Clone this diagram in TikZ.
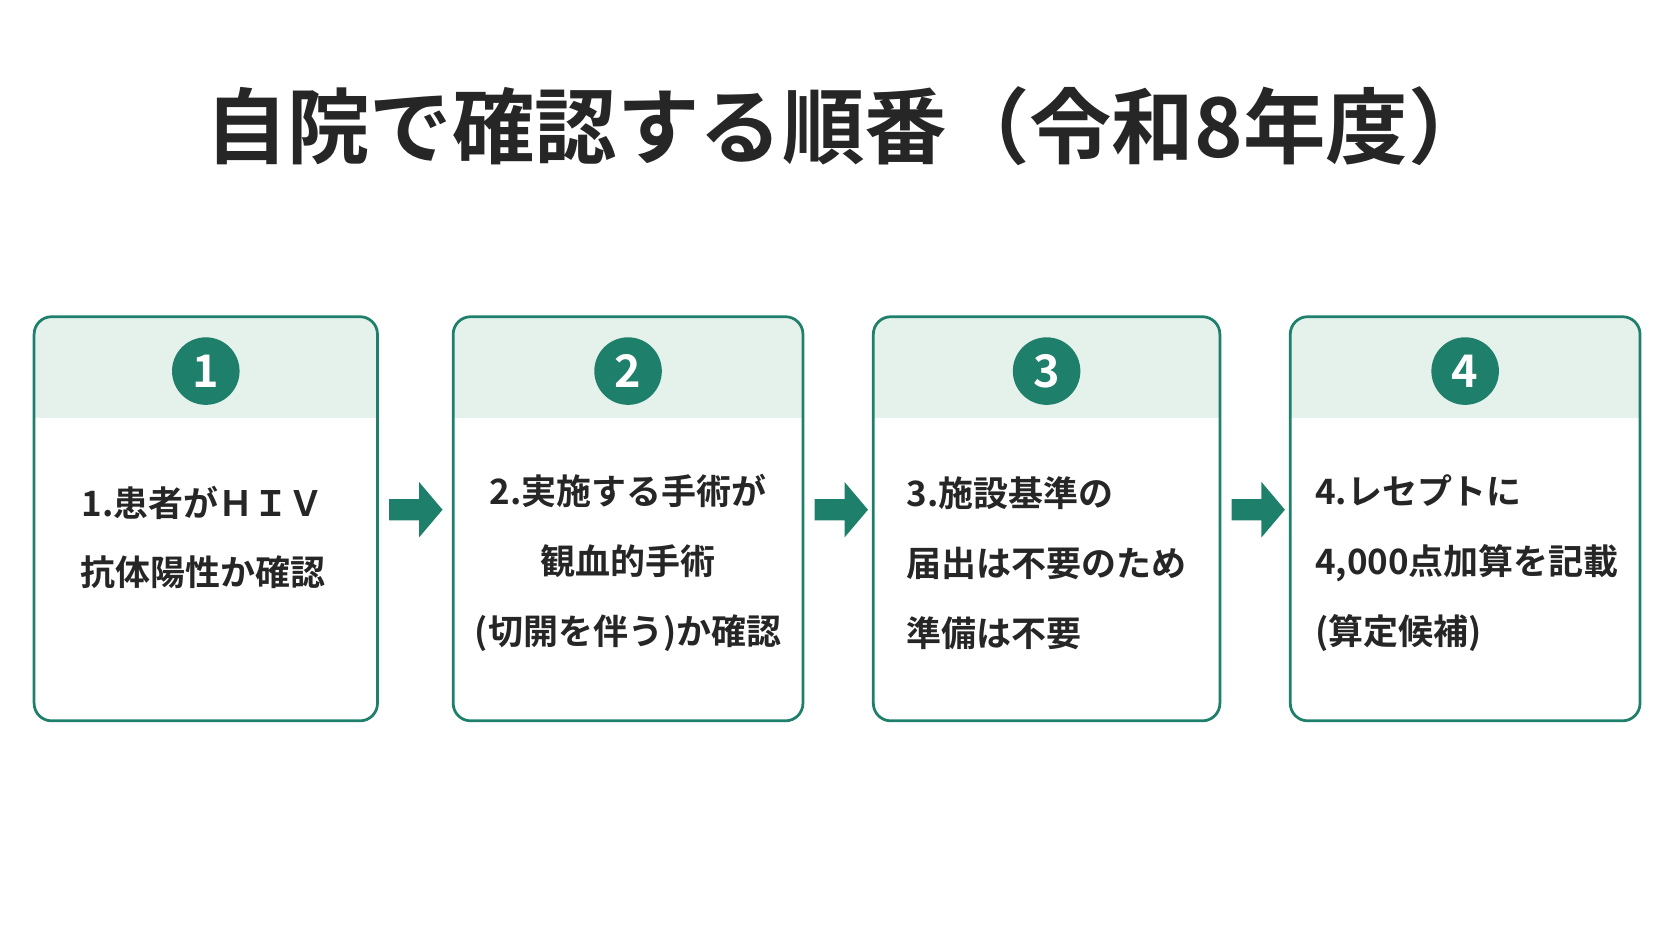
\documentclass[tikz,border=0pt]{standalone}
\usepackage{fontspec}
\setmainfont{Noto Sans CJK JP}[BoldFont={Noto Sans CJK JP Bold}]
\definecolor{grn}{HTML}{1E7F6A}
\definecolor{band}{HTML}{E5F1EB}
\begin{document}
\begin{tikzpicture}[x=0.03cm,y=-0.03cm,
  box/.style={draw=grn,line width=2.2pt,rounded corners=14pt},
  num/.style={circle,fill=grn,minimum size=1.9cm,inner sep=0pt,text=white,font=\fontsize{36}{36}\selectfont\bfseries},
  txt/.style={font=\fontsize{28}{56}\selectfont\bfseries,text=black!85,inner sep=0pt},
  arr/.style={fill=grn,draw=none}]
\useasboundingbox (0,0) rectangle (1568,882);
\node[font=\fontsize{66}{66}\selectfont\bfseries,text=black!85] (title) at (795,118) {自院で確認する順番（令和8年度）};
\foreach \i/\a/\b in {1/32/354,2/425/753,3/819/1144,4/1210/1538}{
  \begin{scope}
  \clip[rounded corners=14pt] (\a,297) rectangle (\b,676);
  \fill[band] (\a,297) rectangle (\b,392);
  \end{scope}
  \draw[box] (\a,297) rectangle (\b,676);
  \node[num] (n\i) at ({(\a+\b)/2},348) {\i};
}
\node[txt,align=center] (t1) at (190,504) {1.患者がＨＩＶ\\抗体陽性か確認};
\node[txt,align=center] (t2) at (589,528) {2.実施する手術が\\観血的手術\\(切開を伴う)か確認};
\node[txt,align=left,anchor=west] (t3) at (850,528) {3.施設基準の\\届出は不要のため\\準備は不要};
\node[txt,align=left,anchor=west] (t4) at (1233,528) {4.レセプトに\\4,000点加算を記載\\(算定候補)};
\foreach \x in {365,764,1155}{
  \fill[arr] (\x,468) -- (\x+28,468) -- (\x+28,452) -- (\x+50,478) -- (\x+28,504) -- (\x+28,488) -- (\x,488) -- cycle;
}
\end{tikzpicture}
\end{document}
